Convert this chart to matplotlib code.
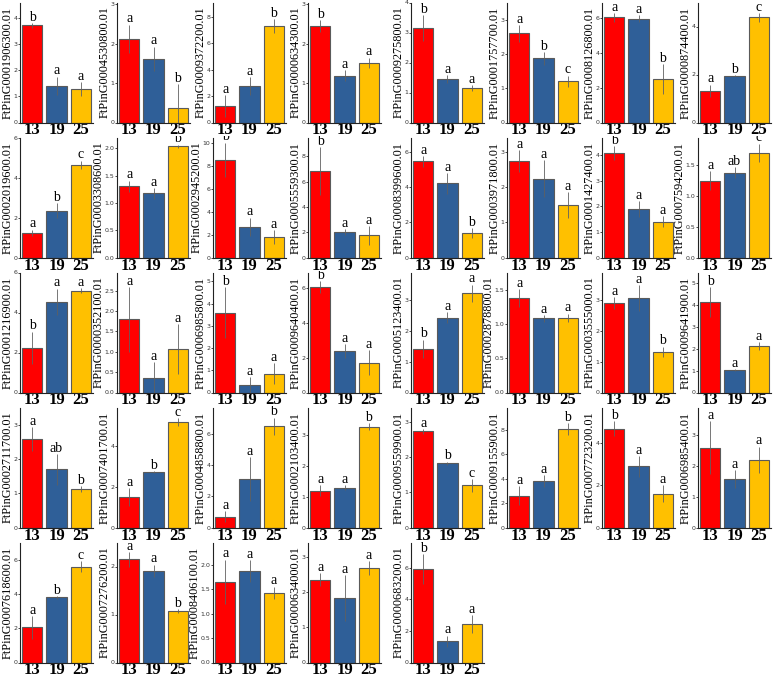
"""Relative expression of FtPinG genes at 13 / 19 / 25 degC: small-multiple bar grid."""
import matplotlib
matplotlib.use("Agg")
import matplotlib.pyplot as plt
import numpy as np
from matplotlib.ticker import MultipleLocator, FormatStrFormatter
from matplotlib.transforms import Bbox

temps = ["13", "19", "25"]

genes = [
    "FtPinG0001906300.01", "FtPinG0004530800.01", "FtPinG0009372200.01", "FtPinG0000634300.01",
    "FtPinG0009275800.01", "FtPinG0001757700.01", "FtPinG0008126800.01", "FtPinG0000874400.01",
    "FtPinG0002019600.01", "FtPinG0003308600.01", "FtPinG0002945200.01", "FtPinG0005559300.01",
    "FtPinG0008399600.01", "FtPinG0003971800.01", "FtPinG0001427400.01", "FtPinG0007594200.01",
    "FtPinG0001216900.01", "FtPinG0000352100.01", "FtPinG0006985800.01", "FtPinG0009640400.01",
    "FtPinG0005123400.01", "FtPinG0002878800.01", "FtPinG0003555000.01", "FtPinG0009641900.01",
    "FtPinG0002711700.01", "FtPinG0007401700.01", "FtPinG0004858800.01", "FtPinG0002103400.01",
    "FtPinG0009559900.01", "FtPinG0009155900.01", "FtPinG0007723200.01", "FtPinG0006985400.01",
    "FtPinG0007618600.01", "FtPinG0007276200.01", "FtPinG0008406100.01", "FtPinG0000634000.01",
    "FtPinG0000683200.01",
]

means = [
    [3.72, 1.41, 1.27], [2.13, 1.62, 0.38], [1.25, 2.79, 7.34], [2.46, 1.19, 1.52],
    [3.15, 1.45, 1.15], [2.60, 1.87, 1.20], [6.05, 5.97, 2.50], [1.33, 1.95, 4.38],
    [1.25, 2.35, 4.65], [1.31, 1.18, 2.04], [8.55, 2.70, 1.78], [6.85, 2.00, 1.75],
    [5.45, 4.20, 1.38], [2.73, 2.23, 1.48], [4.10, 1.90, 1.40], [1.25, 1.38, 1.70],
    [2.25, 4.55, 5.10], [1.80, 0.36, 1.07], [3.60, 0.32, 0.85], [6.05, 2.38, 1.70],
    [1.42, 2.43, 3.23], [1.38, 1.08, 1.09], [2.90, 3.07, 1.32], [4.15, 1.03, 2.13],
    [2.58, 1.70, 1.12], [1.50, 2.72, 5.20], [0.70, 3.10, 6.50], [1.20, 1.30, 3.28],
    [2.73, 1.82, 1.20], [2.60, 3.80, 8.05], [4.70, 2.90, 1.60], [2.60, 1.58, 2.20],
    [2.05, 3.80, 5.60], [2.15, 1.91, 1.07], [1.65, 1.87, 1.42], [2.35, 1.82, 2.68],
    [5.90, 1.35, 2.45],
]

errs = [
    [0.08, 0.35, 0.27], [0.36, 0.31, 0.60], [0.83, 0.68, 0.52], [0.15, 0.14, 0.13],
    [0.42, 0.12, 0.10], [0.25, 0.18, 0.17], [0.25, 0.20, 0.85], [0.25, 0.03, 0.18],
    [0.15, 0.38, 0.20], [0.10, 0.10, 0.03], [1.50, 0.80, 0.60], [1.90, 0.25, 0.75],
    [0.30, 0.60, 0.30], [0.32, 0.52, 0.37], [0.28, 0.30, 0.22], [0.15, 0.09, 0.15],
    [0.80, 0.65, 0.12], [0.80, 0.38, 0.62], [1.15, 0.38, 0.47], [0.35, 0.40, 0.72],
    [0.30, 0.18, 0.28], [0.13, 0.05, 0.06], [0.20, 0.42, 0.17], [0.70, 0.04, 0.20],
    [0.35, 0.45, 0.08], [0.45, 0.05, 0.20], [0.35, 1.40, 0.55], [0.18, 0.08, 0.12],
    [0.07, 0.05, 0.18], [0.80, 0.50, 0.50], [0.35, 0.50, 0.40], [0.85, 0.28, 0.43],
    [0.65, 0.07, 0.30], [0.15, 0.13, 0.04], [0.45, 0.22, 0.13], [0.18, 0.65, 0.20],
    [0.95, 0.35, 0.55],
]

letters = [
    ["b", "a", "a"], ["a", "a", "b"], ["a", "a", "b"], ["b", "a", "a"],
    ["b", "a", "a"], ["a", "b", "c"], ["a", "a", "b"], ["a", "b", "c"],
    ["a", "b", "c"], ["a", "a", "b"], ["b", "a", "a"], ["b", "a", "a"],
    ["a", "a", "b"], ["a", "a", "a"], ["b", "a", "a"], ["a", "ab", "c"],
    ["b", "a", "a"], ["a", "a", "a"], ["b", "a", "a"], ["b", "a", "a"],
    ["b", "a", "a"], ["a", "a", "a"], ["a", "a", "b"], ["b", "a", "a"],
    ["a", "ab", "b"], ["a", "b", "c"], ["a", "a", "b"], ["a", "a", "b"],
    ["a", "b", "c"], ["a", "a", "b"], ["b", "a", "a"], ["a", "a", "a"],
    ["a", "b", "c"], ["a", "a", "b"], ["a", "a", "a"], ["a", "a", "a"],
    ["b", "a", "a"],
]

# y-axis top and major tick step for each panel
ymax = [
    4.6, 3.05, 9.1, 3.05, 4.0, 3.5, 6.9, 5.0,
    6.0, 2.2, 10.5, 9.5, 6.8, 3.4, 4.7, 1.95,
    6.0, 2.95, 5.4, 6.9, 3.9, 1.75, 3.9, 5.5,
    3.5, 5.9, 7.7, 3.9, 3.4, 9.8, 5.7, 3.9,
    7.0, 2.5, 2.45, 3.4, 7.6,
]
ystep = [
    1, 1, 2, 1, 1, 1, 2, 2,
    2, 0.5, 2, 2, 2, 1, 1, 0.5,
    2, 0.5, 1, 2, 1, 0.5, 1, 1,
    1, 2, 2, 1, 1, 2, 2, 1,
    2, 1, 0.5, 1, 2,
]

colors = ["#FF0000", "#2F5F98", "#FFC000"]
SERIF = ["Liberation Serif", "DejaVu Serif"]

W, H = 778, 678
col_left = [20, 117, 213, 308, 411, 507, 602, 698]
AX_W, AX_H = 73, 120

fig = plt.figure(figsize=(W / 100, H / 100), dpi=100)
x = np.arange(len(temps))

for i, gene in enumerate(genes):
    r, c = divmod(i, 8)
    bottom_px = 122.5 + 135 * r
    left_px = col_left[c]
    ax = fig.add_axes([left_px / W, 1 - bottom_px / H, AX_W / W, AX_H / H])

    ax.bar(x, means[i], width=0.84, color=colors, edgecolor="#5a5a5a", linewidth=0.8, zorder=2)
    ax.errorbar(x, means[i], yerr=errs[i], fmt="none", ecolor="#606060",
                elinewidth=0.6, capsize=0, zorder=3)

    # letters get cut at the top of each tile, as in the source figure
    tile = Bbox.from_extents(left_px - 20, H - bottom_px - 20,
                             left_px + AX_W + 20, H - (bottom_px - AX_H) + 2)
    span = ymax[i]
    for xi, m, e, lab in zip(x, means[i], errs[i], letters[i]):
        t = ax.text(xi, m + e + span * 0.018, lab, ha="center", va="baseline",
                    fontsize=10, family=SERIF, clip_on=True)
        t.set_clip_box(tile)

    ax.set_xlim(-0.5, 2.5)
    ax.set_ylim(0, ymax[i])
    ax.yaxis.set_major_locator(MultipleLocator(ystep[i]))
    ax.yaxis.set_major_formatter(FormatStrFormatter("%.1f" if ystep[i] < 1 else "%d"))
    ax.set_xticks(x)
    ax.set_xticklabels(temps, fontsize=12, fontweight="bold", family=SERIF)
    ax.tick_params(axis="x", length=0, pad=0)
    ax.tick_params(axis="y", labelsize=4.5, length=1.5, width=0.5, pad=0.5, labelcolor="#333333")
    ax.set_ylabel(gene, fontsize=8.8, family=SERIF, labelpad=0)

    for side in ("top", "right"):
        ax.spines[side].set_visible(False)
    for side in ("left", "bottom"):
        ax.spines[side].set_linewidth(0.8)
        ax.spines[side].set_color("#222222")

fig.savefig("out.png", dpi=100)
plt.close(fig)
